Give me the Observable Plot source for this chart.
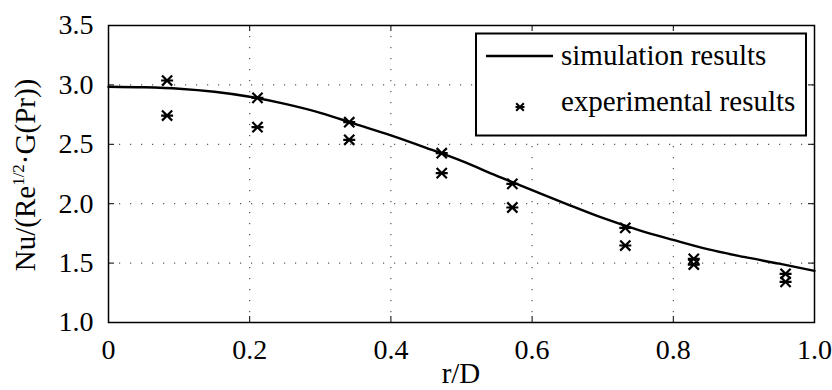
<!DOCTYPE html>
<html><head><meta charset="utf-8">
<script src="https://cdn.jsdelivr.net/npm/d3@7"></script>
<script src="https://cdn.jsdelivr.net/npm/@observablehq/plot@0.6"></script>
<style>
body{margin:0;background:#fff;}
#chart svg{display:block;}
</style></head><body><div id="chart"></div>
<script>
// ---- data ----
const xTicks = [0, 0.2, 0.4, 0.6, 0.8, 1.0];
const xTickLabels = ["0", "0.2", "0.4", "0.6", "0.8", "1.0"];
const yTicks = [1.0, 1.5, 2.0, 2.5, 3.0, 3.5];
const yTickLabels = ["1.0", "1.5", "2.0", "2.5", "3.0", "3.5"];
const simX = [0, 0.05, 0.1, 0.15, 0.2, 0.25, 0.3, 0.35, 0.4, 0.45, 0.5, 0.55, 0.6, 0.65, 0.7, 0.75, 0.8, 0.85, 0.9, 0.95, 1.0];
const simY = [2.985, 2.98, 2.968, 2.942, 2.90, 2.84, 2.765, 2.67, 2.575, 2.47, 2.36, 2.235, 2.115, 1.995, 1.88, 1.78, 1.695, 1.615, 1.552, 1.495, 1.435];
const expX = [0.083, 0.083, 0.211, 0.211, 0.341, 0.341, 0.472, 0.472, 0.572, 0.572, 0.732, 0.732, 0.829, 0.829, 0.959, 0.959];
const expY = [3.037, 2.742, 2.891, 2.644, 2.686, 2.538, 2.425, 2.257, 2.167, 1.968, 1.797, 1.648, 1.535, 1.488, 1.41, 1.342];
const seriesNames = ["simulation results", "experimental results"];
const xLabel = "r/D";
const yLabelParts = ["Nu/(Re", "1/2", "·G(Pr))"];

// ---- layout ----
const W = 832, H = 390, mL = 108, mR = 18, mT = 25, mB = 68;
const pw = W - mL - mR, ph = H - mT - mB;
const font = "'Liberation Serif','Times New Roman',serif";

const sim = simX.map((x, i) => ({x, y: simY[i]}));
const exp = expX.map((x, i) => ({x, y: expY[i]}));
const star = {
  draw(ctx, size) {
    const r = Math.sqrt(size / Math.PI), d = r * 0.85;
    ctx.moveTo(-r, 0); ctx.lineTo(r, 0);
    ctx.moveTo(-d, -d); ctx.lineTo(d, d);
    ctx.moveTo(-d, d); ctx.lineTo(d, -d);
  }
};
const fmt = (arr, labels) => d => labels[arr.findIndex(v => Math.abs(v - d) < 1e-9)];
const gridStyle = {stroke: "#000", strokeOpacity: 0.8, strokeWidth: 1, strokeDasharray: "1.2,9.8"};

const plot = Plot.plot({
  width: W, height: H, marginLeft: mL, marginRight: mR, marginTop: mT, marginBottom: mB,
  style: {fontFamily: font, background: "#fff", color: "#000"},
  x: {domain: [0, 1]},
  y: {domain: [1, 3.5]},
  marks: [
    Plot.gridX(xTicks.slice(1, -1), gridStyle),
    Plot.gridY(yTicks.slice(1, -1), gridStyle),
    Plot.tickX(xTicks, {x: d => d, insetTop: ph - 6, stroke: "#000"}),
    Plot.tickX(xTicks, {x: d => d, insetBottom: ph - 6, stroke: "#000"}),
    Plot.tickY(yTicks, {y: d => d, insetRight: pw - 6, stroke: "#000"}),
    Plot.tickY(yTicks, {y: d => d, insetLeft: pw - 6, stroke: "#000"}),
    Plot.axisX(xTicks, {tickSize: 0, tickPadding: 17, tickFormat: fmt(xTicks, xTickLabels), label: null, fontSize: 28, fill: "#000"}),
    Plot.axisY(yTicks, {tickSize: 0, tickPadding: 15, tickFormat: fmt(yTicks, yTickLabels), label: null, fontSize: 28, fill: "#000"}),
    Plot.frame({stroke: "#000", strokeWidth: 1.5}),
    Plot.line(sim, {x: "x", y: "y", curve: "monotone-x", stroke: "#000", strokeWidth: 2.4}),
    Plot.dot(exp, {x: "x", y: "y", symbol: star, r: 6, stroke: "#000", strokeWidth: 2.2})
  ]
});

const svg = d3.select(plot);
svg.append("text")
  .attr("x", mL + pw / 2).attr("y", 383)
  .attr("text-anchor", "middle").attr("font-family", font).attr("font-size", 29).attr("fill", "#000")
  .text(xLabel);
const yl = svg.append("text")
  .attr("transform", "translate(35,175) rotate(-90)")
  .attr("text-anchor", "middle").attr("font-family", font).attr("font-size", 29).attr("fill", "#000");
yl.append("tspan").text(yLabelParts[0]);
yl.append("tspan").attr("font-size", 17).attr("dy", -11).text(yLabelParts[1]);
yl.append("tspan").attr("dy", 11).text(yLabelParts[2]);

const lg = svg.append("g").attr("text-anchor", "start");
lg.append("rect").attr("x", 476).attr("y", 33.5).attr("width", 330).attr("height", 102)
  .attr("fill", "#fff").attr("stroke", "#000").attr("stroke-width", 2);
lg.append("line").attr("x1", 486).attr("x2", 553).attr("y1", 56).attr("y2", 56)
  .attr("stroke", "#000").attr("stroke-width", 2.4);
lg.append("path").attr("d", d3.symbol(star, 4.5 * 4.5 * Math.PI)())
  .attr("transform", "translate(520,107)").attr("fill", "none").attr("stroke", "#000").attr("stroke-width", 2);
lg.append("text").attr("x", 561).attr("y", 65).attr("text-anchor", "start").attr("font-family", font).attr("font-size", 29).attr("fill", "#000").text(seriesNames[0]);
lg.append("text").attr("x", 561).attr("y", 111).attr("text-anchor", "start").attr("font-family", font).attr("font-size", 29).attr("fill", "#000").text(seriesNames[1]);

document.getElementById("chart").appendChild(plot);
</script>
</body></html>
